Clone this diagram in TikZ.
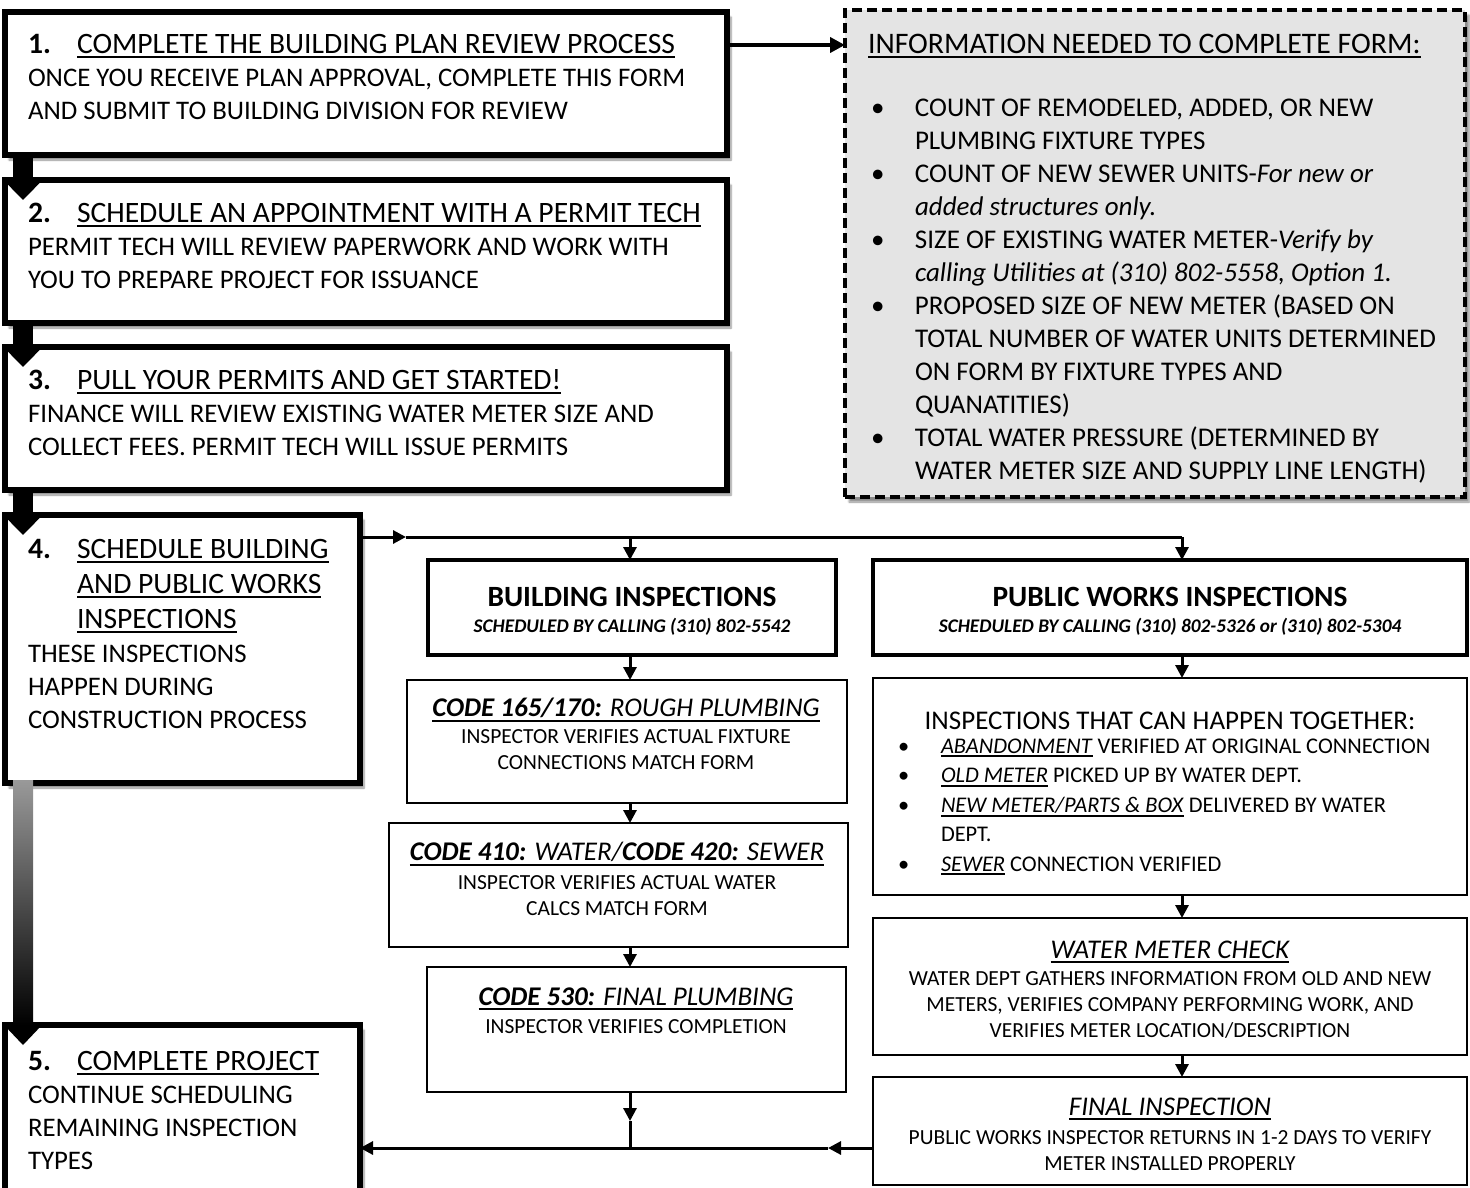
\documentclass[tikz,border=0pt]{standalone}
\usepackage{fontspec}
\setmainfont{Carlito}
\usetikzlibrary{arrows.meta,shadows.blur}
\newcommand{\numlbl}[1]{\makebox[49pt][l]{\textbf{#1}}}
\newcommand{\blt}[1]{\makebox[#1][l]{\textbullet}}
\newcommand{\ulx}[1]{\leavevmode\vtop{\hbox{#1}\kern 2.2pt\hrule height 1.7pt}}
\newcommand{\ns}{\spaceskip=\fontdimen2\font\xspaceskip=\fontdimen2\font\relax}
\newcommand{\ttl}{\fontsize{29.6}{33}\selectfont\ns}
\definecolor{infogray}{HTML}{E4E4E4}
\begin{document}
\begin{tikzpicture}[x=1pt,y=-1pt,
  stepbox/.style={draw, line width=5.5pt, fill=white, inner sep=0pt, outer sep=0pt,
    blur shadow={shadow xshift=4pt, shadow yshift=-5pt, shadow blur steps=6, shadow opacity=45}},
  infobox/.style={draw, dash pattern=on 10pt off 5pt, line width=3.5pt, fill=infogray, inner sep=0pt, outer sep=0pt,
    blur shadow={shadow xshift=4pt, shadow yshift=-5pt, shadow blur steps=6, shadow opacity=45}},
  hdrbox/.style={draw, line width=4.5pt, fill=white, inner sep=0pt, outer sep=0pt},
  codebox/.style={draw, line width=2.4pt, fill=white, inner sep=0pt, outer sep=0pt},
  txt/.style={inner sep=0pt, outer sep=0pt},
  bigf/.style={font=\fontsize{26.8}{33}\selectfont},
  smallf/.style={font=\fontsize{21.5}{26}\selectfont},
  conn/.style={line width=3pt},
  arrowtip/.style={-{Triangle[length=13pt,width=13pt]}},
  bigarr/.style={line width=20pt, -{Triangle[length=20pt,width=38pt]}}
]
\useasboundingbox (0,0) rectangle (1470,1188);
\clip (0,0) rectangle (1470,1188);

% step boxes
\node[stepbox, minimum width=722pt, minimum height=143pt] (s1) at (366,83.5) {};
\node[stepbox, minimum width=722pt, minimum height=143pt] (s2) at (366,251.5) {};
\node[stepbox, minimum width=722pt, minimum height=143pt] (s3) at (366,418.5) {};
\node[stepbox, minimum width=355pt, minimum height=268pt] (s4) at (182.5,649) {};
\node[stepbox, minimum width=355pt, minimum height=205pt] (s5) at (182.5,1127.5) {};
% info box
\node[infobox, minimum width=620pt, minimum height=487pt] (info) at (1155,253.5) {};
% inspection headers
\node[hdrbox, minimum width=408pt, minimum height=95pt] (bi) at (632,607.5) {};
\node[hdrbox, minimum width=594pt, minimum height=95pt] (pw) at (1170,607.5) {};
% building inspections chain
\node[codebox, minimum width=440pt, minimum height=123pt] (c165) at (627,741.5) {};
\node[codebox, minimum width=459pt, minimum height=124pt] (c410) at (618.5,885) {};
\node[codebox, minimum width=419pt, minimum height=125pt] (c530) at (636.5,1029.5) {};
% public works chain
\node[codebox, minimum width=594pt, minimum height=217pt] (tog) at (1170,786.5) {};
\node[codebox, minimum width=594pt, minimum height=137pt] (wmc) at (1170,986.5) {};
\node[codebox, minimum width=594pt, minimum height=108pt] (fi) at (1170,1131) {};

% ---- texts ----
\node[txt, bigf, anchor=base west, text width=700pt, align=left] (t1) at (28,53.5)
  {\ns{\ttl\numlbl{1.}\ulx{COMPLETE THE BUILDING PLAN REVIEW PROCESS}}\\ONCE YOU RECEIVE PLAN APPROVAL, COMPLETE THIS FORM\\AND SUBMIT TO BUILDING DIVISION FOR REVIEW};
\node[txt, bigf, anchor=base west, text width=700pt, align=left] (t2) at (28,222.5)
  {\ns{\ttl\numlbl{2.}\ulx{SCHEDULE AN APPOINTMENT WITH A PERMIT TECH}}\\PERMIT TECH WILL REVIEW PAPERWORK AND WORK WITH\\YOU TO PREPARE PROJECT FOR ISSUANCE};
\node[txt, bigf, anchor=base west, text width=700pt, align=left] (t3) at (28,389.5)
  {\ns{\ttl\numlbl{3.}\ulx{PULL YOUR PERMITS AND GET STARTED!}}\\FINANCE WILL REVIEW EXISTING WATER METER SIZE AND\\COLLECT FEES. PERMIT TECH WILL ISSUE PERMITS};
\node[txt, font=\ttl, anchor=base west] (n4) at (28,558.5) {\textbf{4.}};
\node[txt, font=\fontsize{29.6}{35}\selectfont, anchor=base west, text width=280pt, align=left] (t4a) at (77,558.5)
  {\ns\ulx{SCHEDULE BUILDING}\\\ulx{AND PUBLIC WORKS}\\\ulx{INSPECTIONS}};
\node[txt, bigf, anchor=base west, text width=320pt, align=left] (t4b) at (28,662.5)
  {\ns THESE INSPECTIONS\\HAPPEN DURING\\CONSTRUCTION PROCESS};
\node[txt, bigf, anchor=base west, text width=320pt, align=left] (t5) at (28,1070.5)
  {\ns{\ttl\numlbl{5.}\ulx{COMPLETE PROJECT}}\\CONTINUE SCHEDULING\\REMAINING INSPECTION\\TYPES};

\node[txt, font=\fontsize{29.8}{33}\selectfont, anchor=base west] (it) at (868,54) {\ulx{INFORMATION NEEDED TO COMPLETE FORM:}};
\node[txt, font=\fontsize{27}{33}\selectfont, anchor=base west, text width=595pt, align=left] (il) at (871,116.5)
  {\ns\blt{44pt}COUNT OF REMODELED, ADDED, OR NEW\\
   \hspace*{44pt}PLUMBING FIXTURE TYPES\\
   \blt{44pt}COUNT OF NEW SEWER UNITS-\textit{For new or}\\
   \hspace*{44pt}\textit{added structures only.}\\
   \blt{44pt}SIZE OF EXISTING WATER METER-\textit{Verify by}\\
   \hspace*{44pt}\textit{calling Utilities at (310) 802-5558, Option 1.}\\
   \blt{44pt}PROPOSED SIZE OF NEW METER (BASED ON\\
   \hspace*{44pt}TOTAL NUMBER OF WATER UNITS DETERMINED\\
   \hspace*{44pt}ON FORM BY FIXTURE TYPES AND\\
   \hspace*{44pt}QUANATITIES)\\
   \blt{44pt}TOTAL WATER PRESSURE (DETERMINED BY\\
   \hspace*{44pt}WATER METER SIZE AND SUPPLY LINE LENGTH)};

\node[txt, font=\fontsize{29.4}{34}\selectfont\bfseries, anchor=base] (bit) at (632,606.5) {BUILDING INSPECTIONS};
\node[txt, font=\fontsize{19.3}{23}\selectfont\bfseries\itshape, anchor=base] (bis) at (632,632) {SCHEDULED BY CALLING (310) 802-5542};
\node[txt, font=\fontsize{29.4}{34}\selectfont\bfseries, anchor=base] (pwt) at (1170,606.5) {PUBLIC WORKS INSPECTIONS};
\node[txt, font=\fontsize{19.3}{23}\selectfont\bfseries\itshape, anchor=base] (pws) at (1170,632) {SCHEDULED BY CALLING (310) 802-5326 or (310) 802-5304};

\node[txt, font=\fontsize{27}{30}\selectfont\itshape, anchor=base] (c165t) at (626,716.5) {\ulx{\textbf{CODE 165/170:} ROUGH PLUMBING}};
\node[txt, smallf, anchor=base, text width=430pt, align=center] (c165b) at (626,743) {\ns INSPECTOR VERIFIES ACTUAL FIXTURE\\CONNECTIONS MATCH FORM};
\node[txt, font=\fontsize{27}{30}\selectfont\itshape, anchor=base] (c410t) at (617,860.5) {\ulx{\textbf{CODE 410:} WATER/\textbf{CODE 420:} SEWER}};
\node[txt, smallf, anchor=base, text width=440pt, align=center] (c410b) at (617,889) {\ns INSPECTOR VERIFIES ACTUAL WATER\\CALCS MATCH FORM};
\node[txt, font=\fontsize{27}{30}\selectfont\itshape, anchor=base] (c530t) at (636,1005.5) {\ulx{\textbf{CODE 530:} FINAL PLUMBING}};
\node[txt, smallf, anchor=base, text width=400pt, align=center] (c530b) at (636,1033) {\ns INSPECTOR VERIFIES COMPLETION};

\node[txt, font=\fontsize{27}{33}\selectfont, anchor=base] (togt) at (1170,729) {INSPECTIONS THAT CAN HAPPEN TOGETHER:};
\node[txt, font=\fontsize{22.4}{29.5}\selectfont, anchor=base west, text width=560pt, align=left] (togl) at (898,753)
  {\ns\blt{43pt}\ulx{\textit{ABANDONMENT}} VERIFIED AT ORIGINAL CONNECTION\\
   \blt{43pt}\ulx{\textit{OLD METER}} PICKED UP BY WATER DEPT.\\
   \blt{43pt}\ulx{\textit{NEW METER/PARTS \& BOX}} DELIVERED BY WATER\\
   \hspace*{43pt}DEPT.\\
   \blt{43pt}\ulx{\textit{SEWER}} CONNECTION VERIFIED};
\node[txt, font=\fontsize{27}{33}\selectfont\itshape, anchor=base] (wmct) at (1170,958.5) {\ulx{WATER METER CHECK}};
\node[txt, smallf, anchor=base, text width=585pt, align=center] (wmcb) at (1170,985)
  {\ns WATER DEPT GATHERS INFORMATION FROM OLD AND NEW\\METERS, VERIFIES COMPANY PERFORMING WORK, AND\\VERIFIES METER LOCATION/DESCRIPTION};
\node[txt, font=\fontsize{27}{33}\selectfont\itshape, anchor=base] (fit) at (1170,1115.5) {\ulx{FINAL INSPECTION}};
\node[txt, smallf, anchor=base, text width=585pt, align=center] (fib) at (1170,1144)
  {\ns PUBLIC WORKS INSPECTOR RETURNS IN 1-2 DAYS TO VERIFY\\METER INSTALLED PROPERLY};

% ---- connectors ----
\coordinate (r1) at (0,45);
\coordinate (r4) at (0,537);
\coordinate (r5) at (0,1148);
\coordinate (bix) at (630,0);
\coordinate (pwx) at (1182,0);
\coordinate (mid4) at (406,537);
\coordinate (midb) at (630,1121);
\coordinate (midf) at (828,1148);

\draw[line width=4pt, -{Triangle[length=15pt,width=15pt]}] (s1.east |- r1) -- (info.west |- r1);
\draw[conn, arrowtip] (s4.east |- r4) -- (mid4);
\draw[conn] (mid4) -- (pwx |- r4);
\draw[conn, arrowtip] (bix |- r4) -- (bix |- bi.north);
\draw[conn, arrowtip] (pwx |- r4) -- (pwx |- pw.north);
\draw[conn, arrowtip] (bix |- bi.south) -- (bix |- c165.north);
\draw[conn, arrowtip] (bix |- c165.south) -- (bix |- c410.north);
\draw[conn, arrowtip] (bix |- c410.south) -- (bix |- c530.north);
\draw[conn, arrowtip] (bix |- c530.south) -- (midb);
\draw[conn] (midb) -- (bix |- r5);
\draw[conn, arrowtip] (pwx |- pw.south) -- (pwx |- tog.north);
\draw[conn, arrowtip] (pwx |- tog.south) -- (pwx |- wmc.north);
\draw[conn, arrowtip] (pwx |- wmc.south) -- (pwx |- fi.north);
\draw[conn, arrowtip] (fi.west |- r5) -- (midf);
\draw[conn, arrowtip] (midf) -- (s5.east |- r5);

% big step arrows
\draw[bigarr] ([xshift=18pt]s1.south west) -- ([xshift=18pt,yshift=-20pt]s2.north west);
\draw[bigarr] ([xshift=18pt]s2.south west) -- ([xshift=18pt,yshift=-20pt]s3.north west);
\draw[bigarr] ([xshift=18pt]s3.south west) -- ([xshift=18pt,yshift=-20pt]s4.north west);
\shade[top color=black!40, middle color=black!75, bottom color=black]
  ([xshift=8pt,yshift=2.5pt]s4.south west) rectangle ([xshift=28pt]s5.north west);
\fill[black] ([xshift=-1pt]s5.north west) -- ([xshift=37pt]s5.north west) -- ([xshift=18pt,yshift=-20pt]s5.north west) -- cycle;
\end{tikzpicture}
\end{document}
